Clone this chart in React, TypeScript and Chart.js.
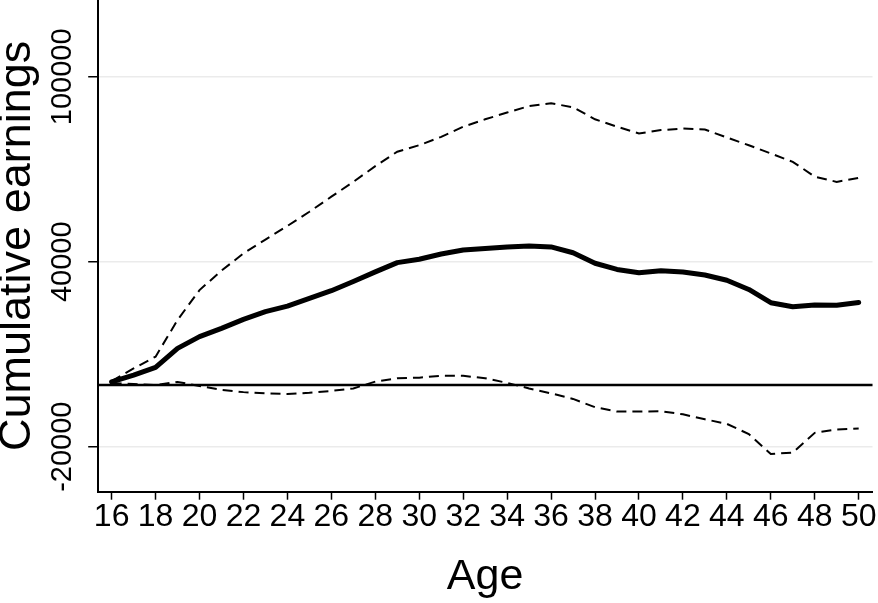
import { useEffect, useRef } from 'react';
import { Chart, registerables } from 'chart.js';

Chart.register(...registerables);

// Age axis
const ages = [16, 17, 18, 19, 20, 21, 22, 23, 24, 25, 26, 27, 28, 29, 30, 31, 32, 33,
  34, 35, 36, 37, 38, 39, 40, 41, 42, 43, 44, 45, 46, 47, 48, 49, 50];

// Point estimate (thick solid line)
const estimate = [1000, 3200, 5700, 11900, 15700, 18400, 21300, 23800, 25600, 28100,
  30600, 33600, 36700, 39700, 40800, 42500, 43800, 44300, 44800, 45100, 44800, 42900,
  39500, 37500, 36400, 37100, 36700, 35700, 34000, 31000, 26700, 25400, 26000, 25900, 26800];

// Upper confidence bound (dashed)
const upper = [1300, 5400, 9200, 21100, 30800, 37100, 42700, 47200, 51600, 56200,
  61100, 65900, 71000, 75700, 77800, 80500, 83800, 86200, 88400, 90500, 91400, 90100,
  86200, 83800, 81600, 82700, 83200, 82900, 80300, 77800, 75100, 72400, 67600, 65900, 67200];

// Lower confidence bound (dashed)
const lower = [600, 300, 0, 1000, -300, -1600, -2300, -2700, -2900, -2500,
  -1900, -1100, 1100, 2200, 2400, 3000, 3000, 2200, 700, -1100, -2700, -4500,
  -7200, -8600, -8600, -8500, -9500, -11100, -12600, -15900, -22400, -21900, -15500, -14400, -14100];

const xTicks = [16, 18, 20, 22, 24, 26, 28, 30, 32, 34, 36, 38, 40, 42, 44, 46, 48, 50];
const yTicks = [-20000, 40000, 100000];
const referenceLine = 0;

const FONT = '"Liberation Sans", Arial, Helvetica, sans-serif';

// y 轴刻度标签竖排绘制
const yTickLabels = {
  id: 'yTickLabels',
  afterDraw(chart: any) {
    const { ctx, scales } = chart;
    const y = scales.y;
    ctx.save();
    ctx.font = `29px ${FONT}`;
    ctx.fillStyle = '#000';
    ctx.textAlign = 'center';
    ctx.textBaseline = 'alphabetic';
    y.ticks.forEach((t: any) => {
      ctx.save();
      ctx.translate(70.5, y.getPixelForValue(t.value));
      ctx.rotate(-Math.PI / 2);
      ctx.fillText(String(t.value), 0, 0);
      ctx.restore();
    });
    ctx.restore();
  },
};

// 零线
const zeroLine = {
  id: 'zeroLine',
  beforeDatasetsDraw(chart: any) {
    const { ctx, chartArea, scales } = chart;
    const py = scales.y.getPixelForValue(referenceLine);
    ctx.save();
    ctx.strokeStyle = '#000';
    ctx.lineWidth = 2.6;
    ctx.beginPath();
    ctx.moveTo(chartArea.left, py);
    ctx.lineTo(chartArea.right, py);
    ctx.stroke();
    ctx.restore();
  },
};

const toPoints = (vals: number[]) => ages.map((a, i) => ({ x: a, y: vals[i] }));

export default function App() {
  const canvasRef = useRef<HTMLCanvasElement>(null);
  const chartRef = useRef<Chart | null>(null);

  useEffect(() => {
    if (!canvasRef.current) return;
    if (chartRef.current) chartRef.current.destroy();

    const dashed = {
      borderColor: '#000',
      borderWidth: 2,
      borderDash: [10, 6],
      pointRadius: 0,
      tension: 0,
      fill: false,
    };

    chartRef.current = new Chart(canvasRef.current, {
      type: 'line',
      data: {
        datasets: [
          { ...dashed, data: toPoints(upper) },
          { ...dashed, data: toPoints(lower) },
          {
            data: toPoints(estimate),
            borderColor: '#000',
            borderWidth: 5,
            borderCapStyle: 'round',
            borderJoinStyle: 'round',
            pointRadius: 0,
            tension: 0,
            fill: false,
          },
        ],
      },
      options: {
        animation: false,
        responsive: true,
        maintainAspectRatio: false,
        layout: { padding: { top: 0, left: 0, right: 1.3, bottom: 0 } },
        plugins: {
          legend: { display: false },
          tooltip: { enabled: false },
        },
        scales: {
          x: {
            type: 'linear',
            min: 15.366,
            max: 50.63,
            afterBuildTicks: (s: any) => {
              s.ticks = xTicks.map((v) => ({ value: v }));
            },
            afterFit: (s: any) => {
              s.height = 111.3;
            },
            grid: {
              drawOnChartArea: false,
              drawTicks: true,
              tickLength: 8,
              tickColor: '#000',
              tickWidth: 1.5,
            },
            border: { color: '#000', width: 2 },
            ticks: {
              autoSkip: false,
              maxRotation: 0,
              minRotation: 0,
              padding: 1.5,
              color: '#000',
              font: { family: FONT, size: 32, lineHeight: 1 },
            },
            title: {
              display: true,
              text: 'Age',
              color: '#000',
              padding: 0,
              font: { family: FONT, size: 43, lineHeight: 1.2 },
            },
          },
          y: {
            type: 'linear',
            min: -34600,
            max: 124900,
            afterBuildTicks: (s: any) => {
              s.ticks = yTicks.map((v) => ({ value: v }));
            },
            afterFit: (s: any) => {
              s.width = 97.7;
            },
            grid: {
              color: '#ebebeb',
              lineWidth: 1.5,
              drawTicks: true,
              tickLength: 9.5,
              tickColor: '#000',
              tickWidth: 1.5,
            },
            border: { color: '#000', width: 2 },
            ticks: { display: false },
            title: {
              display: true,
              text: 'Cumulative earnings',
              color: '#000',
              padding: 0,
              font: { family: FONT, size: 45, lineHeight: 0.8 },
            },
          },
        },
      },
      plugins: [zeroLine, yTickLabels],
    });

    return () => {
      if (chartRef.current) {
        chartRef.current.destroy();
        chartRef.current = null;
      }
    };
  }, []);

  return (
    <div style={{ position: 'fixed', left: 0, top: 0, width: 878, height: 603, background: '#fff' }}>
      <canvas ref={canvasRef}></canvas>
    </div>
  );
}
